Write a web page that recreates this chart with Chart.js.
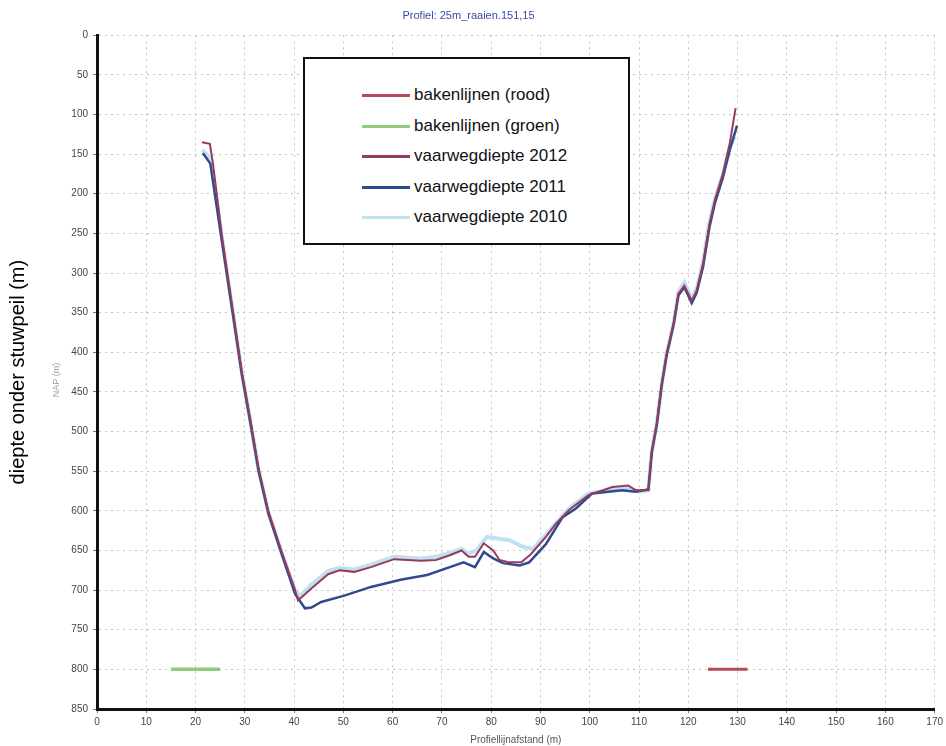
<!DOCTYPE html>
<html>
<head>
<meta charset="utf-8">
<script src="https://cdn.jsdelivr.net/npm/chart.js@4.4.0/dist/chart.umd.min.js"></script>
<style>
  body { margin: 0; background: #fff; }
  #wrap { position: relative; width: 946px; height: 746px; }
  #legend {
    position: absolute; left: 303px; top: 57px; width: 323px; height: 184px;
    border: 2px solid #111; background: #fff; box-sizing: content-box;
    font-family: "Liberation Sans", Arial, sans-serif; font-size: 17px; color: #111;
  }
  #legend .row { position: absolute; left: 0; height: 30px; line-height: 30px; white-space: nowrap; }
  #legend .swatch { position: absolute; left: 57px; top: 14px; width: 48px; }
  #legend .txt { position: absolute; left: 109px; top: 0; }
</style>
</head>
<body>
<div id="wrap">
  <canvas id="myChart"></canvas>
  <div id="legend"></div>
</div>
<script>
// bakenlijnen
var roodX = [124, 132];
var roodY = [800, 800];
var groenX = [15, 25];
var groenY = [800, 800];

// vaarwegdiepte 2012
var x2012 = [21.3, 22.9, 23.5, 25.4, 27.4, 29.4, 31.1, 32.8, 34.8, 37.5, 40.2, 40.8, 43.5, 46.9, 49.2, 52.2, 55.6, 60.3, 65.7, 68.8, 71.6, 74, 75.4, 76.7, 78.5, 80.4, 81.7, 83.7, 86.1, 88, 91.1, 93.2, 95.8, 99.8, 104.6, 107.8, 109.3, 111.9, 112.6, 113.6, 114.6, 115.6, 117, 118, 119.2, 120.7, 121.7, 123, 124.3, 125.4, 127, 128.4, 129.6];
var y2012 = [135, 137, 160, 255, 340, 425, 484, 547, 601, 652, 700, 713, 698, 680, 675, 677, 671, 661, 663, 662, 656, 650, 658, 658, 641, 650, 662, 665, 665, 655, 633, 616, 599, 580, 570, 568, 574, 574, 524, 490, 440, 402, 364, 326, 316, 335, 322, 288, 238, 208, 175, 137, 92];

// vaarwegdiepte 2011
var x2011 = [21.5, 23, 25.4, 27.4, 29.4, 31.1, 32.8, 34.8, 37.5, 40.2, 42.2, 43.5, 45.5, 50.2, 55.6, 61.6, 67, 71.6, 74.4, 76.7, 78.5, 80.4, 82.4, 85.8, 87.7, 91.1, 94.5, 97.2, 100.5, 106.6, 109.3, 111.9, 112.6, 113.6, 114.6, 115.6, 117, 118, 119.2, 120.7, 121.7, 123, 124.3, 125.4, 127, 128.4, 129.9];
var y2011 = [149, 162, 262, 345, 428, 488, 550, 604, 655, 705, 723, 722, 715, 707, 696, 687, 681, 671, 665, 671, 652, 660, 666, 669, 665, 642, 608, 597, 578, 574, 576, 573, 526, 492, 442, 404, 366, 328, 318, 338, 325, 292, 242, 212, 180, 145, 114];

// vaarwegdiepte 2010
var x2010 = [21.4, 23, 25.4, 27.4, 29.4, 31.1, 32.8, 34.8, 37.5, 40.2, 41.2, 43.5, 46.9, 49.2, 52.2, 55.6, 60.3, 65.7, 68.8, 71.6, 74, 75.4, 77, 79.1, 83.7, 86.7, 88.5, 91.1, 95.8, 99.8, 107.8, 109.9, 111.9, 112.6, 113.6, 114.6, 115.6, 117, 118, 119.2, 120.7, 121.7, 123, 124.3, 125.4, 127, 128.4, 129.4];
var y2010 = [145, 155, 258, 342, 426, 486, 548, 602, 653, 700, 708, 693, 676, 672, 674, 668, 658, 660, 658, 653, 648, 654, 650, 633, 637, 646, 648, 630, 597, 578, 571, 576, 574, 524, 490, 440, 402, 364, 324, 312, 332, 320, 286, 236, 207, 176, 142, 128];

function pts(xs, ys) {
  return xs.map(function (x, i) { return { x: x, y: ys[i] }; });
}

// small secondary axis label next to the ticks
var napLabel = {
  id: 'napLabel',
  afterDraw: function (chart) {
    var c = chart.ctx;
    c.save();
    c.translate(57, 380);
    c.rotate(-Math.PI / 2);
    c.font = '9px "Liberation Sans", Arial, sans-serif';
    c.fillStyle = '#9aa0aa';
    c.textAlign = 'center';
    c.textBaseline = 'middle';
    c.fillText('NAP (m)', 0, 0);
    c.restore();
  }
};

var ctx = document.getElementById('myChart').getContext('2d');
var chart = new Chart(ctx, {
  type: 'line',
  data: {
    datasets: [{
      label: 'bakenlijnen (rood)',
      borderColor: '#b5485a',
      borderWidth: 3,
      data: pts(roodX, roodY)
    }, {
      label: 'bakenlijnen (groen)',
      borderColor: '#8fcb7c',
      borderWidth: 3.5,
      data: pts(groenX, groenY)
    }, {
      label: 'vaarwegdiepte 2012',
      borderColor: '#973a5c',
      borderWidth: 2,
      data: pts(x2012, y2012)
    }, {
      label: 'vaarwegdiepte 2011',
      borderColor: '#2f4b8e',
      borderWidth: 2.5,
      data: pts(x2011, y2011)
    }, {
      label: 'vaarwegdiepte 2010',
      borderColor: '#bfe1f2',
      borderWidth: 4,
      data: pts(x2010, y2010)
    }]
  },
  options: {
    responsive: true,
    maintainAspectRatio: false,
    animation: false,
    layout: { padding: { left: 0, right: 9, top: 0, bottom: 0 } },
    elements: { point: { radius: 0 }, line: { tension: 0, fill: false } },
    plugins: {
      legend: { display: false },
      tooltip: { enabled: false },
      title: {
        display: true,
        text: 'Profiel: 25m_raaien.151,15',
        color: '#3a4aa8',
        font: { family: '"Liberation Sans", Arial, sans-serif', size: 11, weight: 'normal' },
        padding: { top: 9, bottom: 13 }
      }
    },
    scales: {
      x: {
        type: 'linear',
        min: 0,
        max: 170,
        ticks: { stepSize: 10, color: '#444', font: { size: 10 }, padding: 3, maxRotation: 0 },
        grid: { color: '#c4c4c4', tickLength: 4, tickColor: '#777' },
        border: { color: '#111', width: 3, dash: [2, 4] },
        title: {
          display: true,
          text: 'Profiellijnafstand (m)',
          color: '#555',
          font: { size: 10 },
          padding: { top: 0, bottom: 0 }
        },
        afterFit: function (s) { s.height = 37; }
      },
      y: {
        type: 'linear',
        reverse: true,
        min: 0,
        max: 850,
        ticks: { stepSize: 50, color: '#444', font: { size: 10 }, padding: 5 },
        grid: { color: '#c4c4c4', tickLength: 4, tickColor: '#777' },
        border: { color: '#111', width: 3, dash: [2, 4] },
        title: {
          display: true,
          text: 'diepte onder stuwpeil (m)',
          color: '#000',
          font: { family: '"Liberation Sans", Arial, sans-serif', size: 20 },
          padding: { top: 6, bottom: 0 }
        },
        afterFit: function (s) { s.width = 97; }
      }
    }
  },
  plugins: [napLabel]
});

// legend box inside the plot, built from the datasets
var lg = document.getElementById('legend');
chart.data.datasets.forEach(function (ds, i) {
  var row = document.createElement('div');
  row.className = 'row';
  row.style.top = (21 + i * 30.5) + 'px';
  row.style.width = '100%';
  var sw = document.createElement('div');
  sw.className = 'swatch';
  sw.style.borderTop = '3px solid ' + ds.borderColor;
  var tx = document.createElement('span');
  tx.className = 'txt';
  tx.textContent = ds.label;
  row.appendChild(sw);
  row.appendChild(tx);
  lg.appendChild(row);
});
</script>
</body>
</html>
